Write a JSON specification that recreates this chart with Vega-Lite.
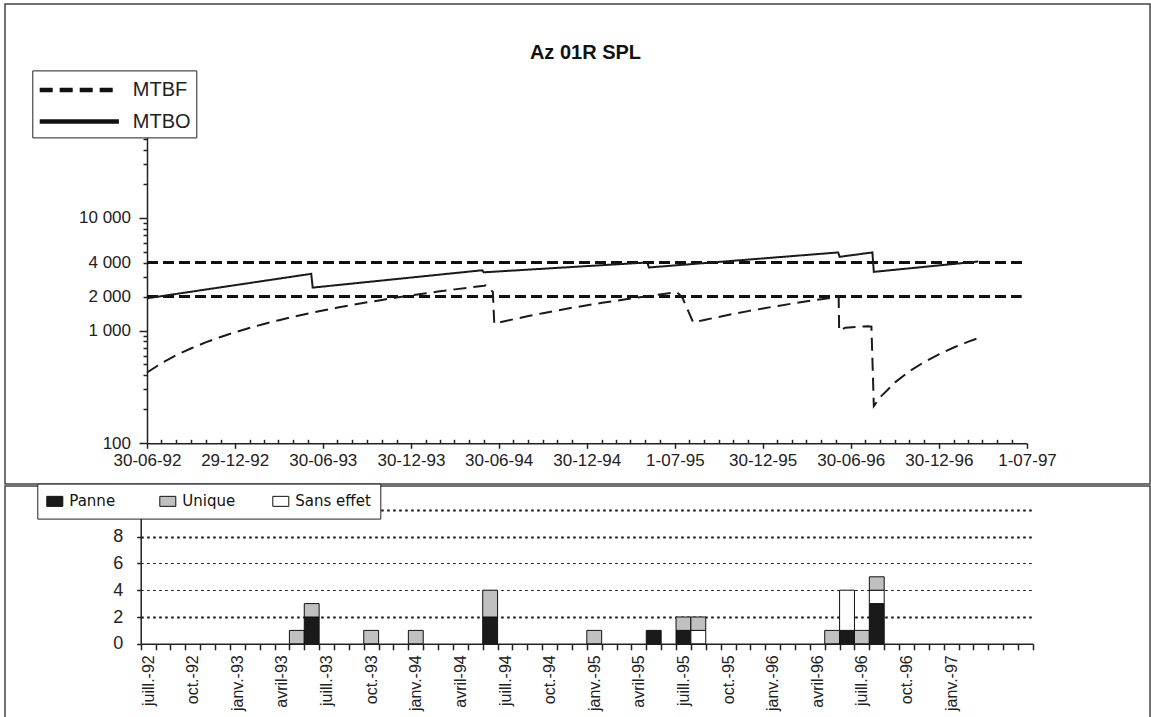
{
  "$schema": "https://vega.github.io/schema/vega-lite/v6.json",
  "padding": {"left": -4, "top": 3, "right": 0, "bottom": 0},
  "background": "white",
  "spacing": 0,
  "config": {
    "view": {"stroke": "#444", "strokeWidth": 1.5},
    "axis": {"domainColor": "#222", "domainWidth": 1.5, "tickColor": "#222", "tickWidth": 1.5, "labelColor": "#222", "labelFont": "Liberation Sans", "labelOverlap": false, "labelFlush": false, "title": null, "grid": false},
    "legend": {"labelColor": "#111"}
  },
  "datasets": {
    "courbes": [
      {"date": "1992-06-30", "valeur": 1930, "serie": "MTBO"},
      {"date": "1993-06-06", "valeur": 3180, "serie": "MTBO"},
      {"date": "1993-06-09", "valeur": 2400, "serie": "MTBO"},
      {"date": "1994-05-27", "valeur": 3420, "serie": "MTBO"},
      {"date": "1994-05-30", "valeur": 3280, "serie": "MTBO"},
      {"date": "1995-05-05", "valeur": 4010, "serie": "MTBO"},
      {"date": "1995-05-08", "valeur": 3620, "serie": "MTBO"},
      {"date": "1996-06-04", "valeur": 4920, "serie": "MTBO"},
      {"date": "1996-06-07", "valeur": 4500, "serie": "MTBO"},
      {"date": "1996-08-14", "valeur": 4920, "serie": "MTBO"},
      {"date": "1996-08-17", "valeur": 3310, "serie": "MTBO"},
      {"date": "1997-03-22", "valeur": 4090, "serie": "MTBO"},
      {"date": "1992-06-30", "valeur": 424, "serie": "MTBF"},
      {"date": "1992-07-31", "valeur": 516, "serie": "MTBF"},
      {"date": "1992-08-31", "valeur": 608, "serie": "MTBF"},
      {"date": "1992-09-30", "valeur": 696, "serie": "MTBF"},
      {"date": "1992-10-31", "valeur": 788, "serie": "MTBF"},
      {"date": "1992-11-30", "valeur": 877, "serie": "MTBF"},
      {"date": "1992-12-31", "valeur": 969, "serie": "MTBF"},
      {"date": "1993-01-31", "valeur": 1060, "serie": "MTBF"},
      {"date": "1993-02-28", "valeur": 1143, "serie": "MTBF"},
      {"date": "1993-03-31", "valeur": 1235, "serie": "MTBF"},
      {"date": "1993-04-30", "valeur": 1324, "serie": "MTBF"},
      {"date": "1993-05-31", "valeur": 1416, "serie": "MTBF"},
      {"date": "1993-06-30", "valeur": 1504, "serie": "MTBF"},
      {"date": "1993-07-31", "valeur": 1596, "serie": "MTBF"},
      {"date": "1993-08-31", "valeur": 1688, "serie": "MTBF"},
      {"date": "1993-09-30", "valeur": 1777, "serie": "MTBF"},
      {"date": "1993-10-31", "valeur": 1868, "serie": "MTBF"},
      {"date": "1993-11-30", "valeur": 1957, "serie": "MTBF"},
      {"date": "1993-12-31", "valeur": 2049, "serie": "MTBF"},
      {"date": "1994-01-31", "valeur": 2141, "serie": "MTBF"},
      {"date": "1994-02-28", "valeur": 2224, "serie": "MTBF"},
      {"date": "1994-03-31", "valeur": 2315, "serie": "MTBF"},
      {"date": "1994-04-30", "valeur": 2404, "serie": "MTBF"},
      {"date": "1994-05-31", "valeur": 2496, "serie": "MTBF"},
      {"date": "1994-06-03", "valeur": 2510, "serie": "MTBF"},
      {"date": "1994-06-18", "valeur": 2200, "serie": "MTBF"},
      {"date": "1994-06-21", "valeur": 1150, "serie": "MTBF"},
      {"date": "1994-07-31", "valeur": 1259, "serie": "MTBF"},
      {"date": "1994-08-31", "valeur": 1343, "serie": "MTBF"},
      {"date": "1994-09-30", "valeur": 1425, "serie": "MTBF"},
      {"date": "1994-10-31", "valeur": 1509, "serie": "MTBF"},
      {"date": "1994-11-30", "valeur": 1591, "serie": "MTBF"},
      {"date": "1994-12-31", "valeur": 1675, "serie": "MTBF"},
      {"date": "1995-01-31", "valeur": 1759, "serie": "MTBF"},
      {"date": "1995-02-28", "valeur": 1835, "serie": "MTBF"},
      {"date": "1995-03-31", "valeur": 1920, "serie": "MTBF"},
      {"date": "1995-04-30", "valeur": 2001, "serie": "MTBF"},
      {"date": "1995-05-31", "valeur": 2086, "serie": "MTBF"},
      {"date": "1995-06-30", "valeur": 2167, "serie": "MTBF"},
      {"date": "1995-07-05", "valeur": 2180, "serie": "MTBF"},
      {"date": "1995-07-16", "valeur": 1980, "serie": "MTBF"},
      {"date": "1995-08-08", "valeur": 1180, "serie": "MTBF"},
      {"date": "1995-08-31", "valeur": 1240, "serie": "MTBF"},
      {"date": "1995-09-30", "valeur": 1320, "serie": "MTBF"},
      {"date": "1995-10-31", "valeur": 1404, "serie": "MTBF"},
      {"date": "1995-11-30", "valeur": 1485, "serie": "MTBF"},
      {"date": "1995-12-31", "valeur": 1569, "serie": "MTBF"},
      {"date": "1996-01-31", "valeur": 1652, "serie": "MTBF"},
      {"date": "1996-02-29", "valeur": 1731, "serie": "MTBF"},
      {"date": "1996-03-31", "valeur": 1814, "serie": "MTBF"},
      {"date": "1996-04-30", "valeur": 1895, "serie": "MTBF"},
      {"date": "1996-05-31", "valeur": 1979, "serie": "MTBF"},
      {"date": "1996-06-05", "valeur": 1992, "serie": "MTBF"},
      {"date": "1996-06-06", "valeur": 993, "serie": "MTBF"},
      {"date": "1996-06-19", "valeur": 1060, "serie": "MTBF"},
      {"date": "1996-08-05", "valeur": 1090, "serie": "MTBF"},
      {"date": "1996-08-12", "valeur": 1080, "serie": "MTBF"},
      {"date": "1996-08-17", "valeur": 214, "serie": "MTBF"},
      {"date": "1996-08-31", "valeur": 258, "serie": "MTBF"},
      {"date": "1996-09-30", "valeur": 347, "serie": "MTBF"},
      {"date": "1996-10-31", "valeur": 438, "serie": "MTBF"},
      {"date": "1996-11-30", "valeur": 527, "serie": "MTBF"},
      {"date": "1996-12-31", "valeur": 618, "serie": "MTBF"},
      {"date": "1997-01-31", "valeur": 710, "serie": "MTBF"},
      {"date": "1997-02-28", "valeur": 792, "serie": "MTBF"},
      {"date": "1997-03-28", "valeur": 875, "serie": "MTBF"}
    ],
    "seuils": [
      {"date": "1992-06-30", "fin": "1997-07-01", "valeur": 4000},
      {"date": "1992-06-30", "fin": "1997-06-20", "valeur": 2000}
    ],
    "evenements": [
      {"mois": "mai-93", "type": "Unique", "n": 1},
      {"mois": "juin-93", "type": "Panne", "n": 2},
      {"mois": "juin-93", "type": "Unique", "n": 1},
      {"mois": "oct.-93", "type": "Unique", "n": 1},
      {"mois": "janv.-94", "type": "Unique", "n": 1},
      {"mois": "juin-94", "type": "Panne", "n": 2},
      {"mois": "juin-94", "type": "Unique", "n": 2},
      {"mois": "janv.-95", "type": "Unique", "n": 1},
      {"mois": "mai-95", "type": "Panne", "n": 1},
      {"mois": "juill.-95", "type": "Panne", "n": 1},
      {"mois": "juill.-95", "type": "Unique", "n": 1},
      {"mois": "août-95", "type": "Sans effet", "n": 1},
      {"mois": "août-95", "type": "Unique", "n": 1},
      {"mois": "mai-96", "type": "Unique", "n": 1},
      {"mois": "juin-96", "type": "Panne", "n": 1},
      {"mois": "juin-96", "type": "Sans effet", "n": 3},
      {"mois": "juill.-96", "type": "Unique", "n": 1},
      {"mois": "août-96", "type": "Panne", "n": 3},
      {"mois": "août-96", "type": "Sans effet", "n": 1},
      {"mois": "août-96", "type": "Unique", "n": 1}
    ]
  },
  "vconcat": [
    {
      "width": 1145,
      "height": 480,
      "title": {"text": "Az 01R SPL", "anchor": "middle", "orient": "top", "offset": -79, "dx": 8, "baseline": "bottom", "font": "Liberation Sans", "fontSize": 20, "fontWeight": "bold", "color": "#111"},
      "encoding": {
        "x": {
          "field": "date", "type": "temporal",
          "scale": {"domain": [{"year": 1992, "month": 6, "date": 30, "utc": true}, {"year": 1997, "month": 7, "date": 1, "utc": true}], "range": [142, 1022]},
          "axis": {
            "orient": "bottom", "offset": -40.7, "labelOverlap": false, "labelFlush": false,
            "values": {"expr": "[utc(1992,5,30),utc(1992,6,30),utc(1992,7,30),utc(1992,8,30),utc(1992,9,30),utc(1992,10,30),utc(1992,11,29),utc(1993,0,29),utc(1993,1,28),utc(1993,2,30),utc(1993,3,30),utc(1993,4,30),utc(1993,5,30),utc(1993,6,30),utc(1993,7,30),utc(1993,8,30),utc(1993,9,30),utc(1993,10,30),utc(1993,11,30),utc(1994,0,30),utc(1994,1,28),utc(1994,2,30),utc(1994,3,30),utc(1994,4,30),utc(1994,5,30),utc(1994,6,30),utc(1994,7,30),utc(1994,8,30),utc(1994,9,30),utc(1994,10,30),utc(1994,11,30),utc(1995,0,30),utc(1995,1,28),utc(1995,2,30),utc(1995,3,30),utc(1995,4,31),utc(1995,6,1),utc(1995,6,31),utc(1995,7,31),utc(1995,8,30),utc(1995,9,30),utc(1995,10,30),utc(1995,11,30),utc(1996,0,30),utc(1996,1,29),utc(1996,2,30),utc(1996,3,30),utc(1996,4,30),utc(1996,5,30),utc(1996,6,30),utc(1996,7,30),utc(1996,8,30),utc(1996,9,30),utc(1996,10,30),utc(1996,11,30),utc(1997,0,30),utc(1997,1,28),utc(1997,2,30),utc(1997,3,30),utc(1997,4,31),utc(1997,6,1)]"},
            "labelExpr": "(utcmonth(datum.value)==5 || utcmonth(datum.value)==11 || utcdate(datum.value)==1) ? utcFormat(datum.value, '%-d-%m-%y') : ''",
            "tickSize": {"condition": {"test": "utcmonth(datum.value)==5 || utcmonth(datum.value)==11 || utcdate(datum.value)==1", "value": 5}, "value": -4},
            "labelPadding": 4,
            "labelFontSize": 17
          }
        },
        "y": {
          "field": "valeur", "type": "quantitative",
          "scale": {"type": "log", "domain": [100, 100000], "range": [439.3, 100.9], "nice": false},
          "axis": {
            "orient": "left", "offset": -142, "labelOverlap": false,
            "values": [100, 200, 300, 400, 500, 600, 700, 800, 900, 1000, 2000, 3000, 4000, 5000, 6000, 7000, 8000, 9000, 10000, 20000, 30000, 40000, 50000, 60000, 70000, 80000, 90000, 100000],
            "labelExpr": "(datum.value==100||datum.value==1000||datum.value==2000||datum.value==4000||datum.value==10000) ? replace(format(datum.value, ','), ',', ' ') : ''",
            "tickSize": {"condition": {"test": "datum.value==100||datum.value==1000||datum.value==10000||datum.value==100000", "value": 8}, "value": 4},
            "labelPadding": {"condition": {"test": "datum.value==100||datum.value==1000||datum.value==10000||datum.value==100000", "value": 8.5}, "value": 12.5},
            "labelFontSize": 17
          }
        }
      },
      "layer": [
        {
          "data": {"name": "seuils"},
          "mark": {"type": "rule", "strokeWidth": 3, "strokeDash": [11, 5], "color": "#111"},
          "encoding": {
            "x2": {"field": "fin"}
          }
        },
        {
          "data": {"name": "courbes"},
          "mark": {"type": "line", "strokeWidth": 2, "color": "#1a1a1a"},
          "encoding": {
            "strokeDash": {
              "field": "serie", "type": "nominal",
              "scale": {"domain": ["MTBF", "MTBO"], "range": [[13, 7], [1, 0]]},
              "legend": {
                "orient": "none", "legendX": 27.3, "legendY": 66.4, "direction": "vertical", "title": null,
                "strokeColor": "#222", "fillColor": "white", "padding": 5, "rowPadding": 6.7,
                "symbolType": "M-3.3,0H3.3", "symbolSize": 576, "symbolStrokeWidth": 4.5, "symbolStrokeColor": "#111",
                "symbolOffset": 27.5, "labelOffset": 39,
                "labelFont": "Liberation Sans", "labelFontSize": 20, "labelColor": "#222"
              }
            }
          }
        }
      ]
    },
    {
      "width": 1145,
      "height": 234,
      "data": {"name": "evenements"},
      "mark": {"type": "bar", "stroke": "#111", "strokeWidth": 1},
      "encoding": {
        "x": {
          "field": "mois", "type": "nominal",
          "scale": {"type": "band", "paddingInner": 0, "paddingOuter": 0, "range": [135.7, 1027.9],
            "domain": ["juill.-92","août-92","sept.-92","oct.-92","nov.-92","déc.-92","janv.-93","févr.-93","mars-93","avril-93","mai-93","juin-93","juill.-93","août-93","sept.-93","oct.-93","nov.-93","déc.-93","janv.-94","févr.-94","mars-94","avril-94","mai-94","juin-94","juill.-94","août-94","sept.-94","oct.-94","nov.-94","déc.-94","janv.-95","févr.-95","mars-95","avril-95","mai-95","juin-95","juill.-95","août-95","sept.-95","oct.-95","nov.-95","déc.-95","janv.-96","févr.-96","mars-96","avril-96","mai-96","juin-96","juill.-96","août-96","sept.-96","oct.-96","nov.-96","déc.-96","janv.-97","févr.-97","mars-97","avril-97","mai-97","juin-97"]},
          "axis": {
            "orient": "bottom", "offset": -76.2, "tickBand": "extent", "tickSize": 6, "labelOverlap": false,
            "labelAngle": -90, "labelPadding": 5, "labelFontSize": 16,
            "labelExpr": "(indexof(['juill.','oct.','janv.','avril'], split(datum.value,'-')[0]) >= 0 && datum.value != 'avril-97') ? datum.value : ''"
          }
        },
        "y": {
          "field": "n", "type": "quantitative",
          "scale": {"domain": [0, 10], "range": [157.8, 23.8], "nice": false},
          "axis": {
            "orient": "left", "offset": -135.7, "values": [0, 2, 4, 6, 8, 10], "tickSize": 4, "labelPadding": 14, "labelFontSize": 18,
            "labelExpr": "datum.value == 10 ? '' : datum.label",
            "grid": true, "gridColor": "#111", "gridDash": [2.5, 3.5],
            "gridWidth": {"condition": {"test": "datum.value==4 || datum.value==6", "value": 1}, "value": 2},
            "gridOpacity": {"condition": {"test": "datum.value==0", "value": 0}, "value": 1}
          }
        },
        "order": {"field": "type", "sort": "ascending"},
        "color": {
          "field": "type", "type": "nominal",
          "scale": {"domain": ["Panne", "Unique", "Sans effet"], "range": ["#1a1a1a", "#c0c0c0", "#ffffff"]},
          "legend": {
            "orient": "none", "legendX": 32.3, "legendY": 479.6, "direction": "horizontal", "columns": 3, "title": null,
            "strokeColor": "#222", "fillColor": "white", "padding": 9, "gridAlign": "all", "columnPadding": 12,
            "symbolType": "M-1,-0.625H1V0.625H-1Z", "symbolSize": 256, "symbolStrokeColor": "#111", "symbolStrokeWidth": 1, "symbolOpacity": 1,
            "labelOffset": 6, "labelFont": "DejaVu Sans", "labelFontSize": 15, "labelColor": "#111"
          }
        }
      }
    }
  ]
}
